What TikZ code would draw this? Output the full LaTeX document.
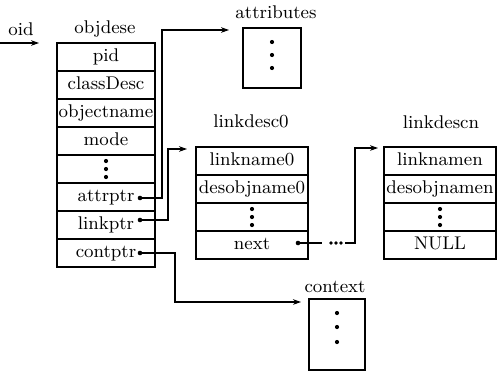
\documentclass[tikz,border=0pt]{standalone}
\usetikzlibrary{arrows.meta}
\begin{document}
\begin{tikzpicture}[x=0.5pt,y=-0.5pt,
  every node/.style={font=\fontsize{9.2}{11}\selectfont},
  row/.style={draw, line width=0.55pt, minimum width=49pt, minimum height=14pt, inner sep=0pt, text height=5.6pt, text depth=1.6pt},
  lrow/.style={draw, line width=0.55pt, minimum width=56pt, minimum height=14pt, inner sep=0pt, text height=5.6pt, text depth=1.6pt},
  blk/.style={draw, line width=0.55pt, inner sep=0pt},
  lbl/.style={anchor=base, inner sep=0pt},
  ptdot/.style={circle, fill, inner sep=0pt, minimum size=2.3pt},
  vdot/.style={circle, fill, inner sep=0pt, minimum size=2.1pt},
  hdot/.style={circle, fill, inner sep=0pt, minimum size=1.8pt},
  conn/.style={line width=0.55pt},
  arr/.style={line width=0.55pt, -{Stealth[length=4pt,width=2.8pt]}}
]
\useasboundingbox (0,0) rectangle (497,376);

% labels
\node[lbl] (oidl) at (21,35) {oid};
\node[lbl] (objl) at (105,33) {objdese};
\node[lbl] (attl) at (276,18) {attributes};
\node[lbl] (l0l) at (251,127) {linkdesc0};
\node[lbl] (lnl) at (441,128) {linkdescn};
\node[lbl] (ctl) at (335,292) {context};

% oid arrow
\coordinate (oidstart) at (0,43);
\coordinate (oidtip) at (39,43);
\draw[arr] (oidstart) -- (oidtip);

% objdese
\node[row] (r1) at (106,57) {pid};
\node[row] (r2) at (106,85) {classDesc};
\node[row] (r3) at (106,113) {objectname};
\node[row] (r4) at (106,141) {mode};
\node[row] (r5) at (106,169) {};
\node[row] (r6) at (106,197) {attrptr\hspace{7pt}};
\node[row] (r7) at (106,225) {linkptr\hspace{7pt}};
\node[row] (r8) at (106,253) {contptr\hspace{7pt}};
\node[vdot] (o1) at (106,161) {};
\node[vdot] (o2) at (106,169) {};
\node[vdot] (o3) at (106,177) {};

% attributes
\node[blk, minimum width=29pt, minimum height=30pt] (attr) at (272,58) {};
\node[vdot] (a1) at (272,42) {};
\node[vdot] (a2) at (272,55) {};
\node[vdot] (a3) at (272,68) {};

% linkdesc0
\node[lrow] (k1) at (252,161) {linkname0};
\node[lrow] (k2) at (252,189) {desobjname0};
\node[lrow] (k3) at (252,217) {};
\node[lrow] (k4) at (252,245) {next};
\node[vdot] (k3a) at (252,209) {};
\node[vdot] (k3b) at (252,217) {};
\node[vdot] (k3c) at (252,225) {};

% linkdescn
\node[lrow] (n1) at (440,161) {linknamen};
\node[lrow] (n2) at (440,189) {desobjnamen};
\node[lrow] (n3) at (440,217) {};
\node[lrow] (n4) at (440,245) {NULL};
\node[vdot] (n3a) at (440,209) {};
\node[vdot] (n3b) at (440,217) {};
\node[vdot] (n3c) at (440,225) {};

% context
\node[blk, minimum width=28pt, minimum height=35.5pt] (ctx) at (337,334.5) {};
\node[vdot] (c1) at (337,313) {};
\node[vdot] (c2) at (337,327) {};
\node[vdot] (c3) at (337,342) {};

% pointer dots
\node[ptdot] (ad) at (140,198) {};
\node[ptdot] (lp) at (140,220) {};
\node[ptdot] (cd) at (140,253) {};
\node[ptdot] (nd) at (298,243) {};

% connectors
\coordinate (atip) at (229,30);
\draw[arr] (ad.center) -| (162,115) |- (atip);

\coordinate (l0tip) at (187,149);
\draw[arr] (lp.center) -| (168,190) |- (l0tip);

\coordinate (ctip) at (301,302);
\draw[arr] (cd.center) -| (175,280) |- (ctip);

\coordinate (ne1) at (322,243);
\draw[conn] (nd.center) -- (ne1);
\node[hdot] (e1) at (331,243) {};
\node[hdot] (e2) at (336,243) {};
\node[hdot] (e3) at (341,243) {};
\coordinate (ne2) at (345,243);
\coordinate (lntip) at (378,148);
\draw[arr] (ne2) -| (355,200) |- (lntip);
\end{tikzpicture}
\end{document}
